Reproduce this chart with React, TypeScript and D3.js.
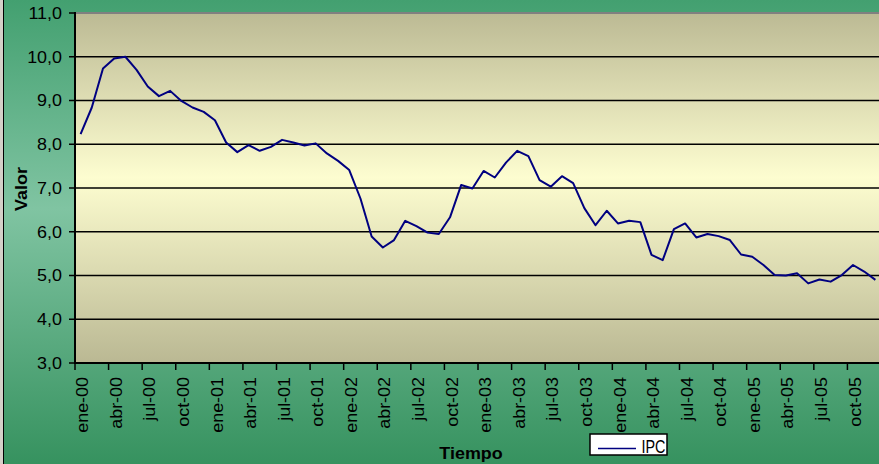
import React from "react";
import * as d3 from "d3";

const W = 879;
const H = 464;

// IPC monthly values, ene-00 .. dic-05
const ipcValues: number[] = [
  8.23, 8.84, 9.73, 9.96, 10.0, 9.7, 9.32, 9.1, 9.22, 8.99, 8.84, 8.74,
  8.55, 8.04, 7.82, 7.98, 7.85, 7.94, 8.1, 8.04, 7.97, 8.02, 7.79, 7.62,
  7.41, 6.76, 5.89, 5.64, 5.81, 6.25, 6.13, 5.98, 5.95, 6.33, 7.07, 6.99,
  7.39, 7.24, 7.58, 7.85, 7.73, 7.18, 7.03, 7.27, 7.11, 6.54, 6.15, 6.48,
  6.19, 6.25, 6.22, 5.47, 5.35, 6.06, 6.19, 5.87, 5.95, 5.9, 5.81, 5.48,
  5.43, 5.24, 5.01, 5.0, 5.05, 4.82, 4.91, 4.86, 5.01, 5.24, 5.09, 4.9,
];

// Category tick labels (one every three months)
const tickLabels: string[] = [
  "ene-00", "abr-00", "jul-00", "oct-00",
  "ene-01", "abr-01", "jul-01", "oct-01",
  "ene-02", "abr-02", "jul-02", "oct-02",
  "ene-03", "abr-03", "jul-03", "oct-03",
  "ene-04", "abr-04", "jul-04", "oct-04",
  "ene-05", "abr-05", "jul-05", "oct-05",
];
const tickStep = 3;

const yTicks: number[] = [3, 4, 5, 6, 7, 8, 9, 10, 11];

const seriesName = "IPC";
const xTitle = "Tiempo";
const yTitle = "Valor";

export default function App() {
  const left = 75;
  const right = 881;
  const top = 13;
  const bottom = 363;

  const cats = ipcValues.map((_, i) => i);
  const x = d3.scaleBand<number>().domain(cats).range([left, right]).padding(0);
  const bw = x.bandwidth();
  const cx = (i: number) => (x(i) as number) + bw / 2;
  const y = d3.scaleLinear().domain([3, 11]).range([bottom, top]);

  const line = d3
    .line<number>()
    .x((_, i) => cx(i))
    .y((d) => y(d));

  const fmt = (v: number) => v.toFixed(1).replace(".", ",");
  const font = "'Liberation Sans', Arial, sans-serif";

  return (
    <svg
      width={W}
      height={H}
      style={{ position: "absolute", left: 0, top: 0 }}
      fontFamily={font}
    >
      <defs>
        <linearGradient id="outerG" x1="0" y1="0" x2="0" y2="1">
          <stop offset="0" stopColor="#43a070" />
          <stop offset="0.45" stopColor="#80c4a2" />
          <stop offset="1" stopColor="#36925f" />
        </linearGradient>
        <linearGradient id="plotG" x1="0" y1="0" x2="0" y2="1">
          <stop offset="0" stopColor="#bcba94" />
          <stop offset="0.47" stopColor="#fdfdd0" />
          <stop offset="1" stopColor="#bab893" />
        </linearGradient>
      </defs>
      <rect x={0} y={0} width={W} height={H} fill="#d4d0c8" />
      <rect x={3} y={0} width={W - 3} height={H} fill="url(#outerG)" />
      <line x1={3.5} y1={0} x2={3.5} y2={H} stroke="#000" strokeWidth={1} />

      {/* plot area */}
      <rect x={left} y={top} width={right - left} height={bottom - top} fill="url(#plotG)" />

      {/* gridlines */}
      {yTicks
        .filter((t) => t > 3 && t < 11)
        .map((t) => (
          <line key={t} x1={left} x2={right} y1={y(t)} y2={y(t)} stroke="#000" strokeWidth={1.5} />
        ))}
      <line x1={left} x2={right} y1={top} y2={top} stroke="#808080" strokeWidth={2} />

      {/* series */}
      <path d={line(ipcValues) || ""} fill="none" stroke="#000080" strokeWidth={2} strokeLinejoin="round" />

      {/* axes */}
      <line x1={left} x2={left} y1={top - 1} y2={bottom + 1} stroke="#000" strokeWidth={2} />
      <line x1={left - 1} x2={right} y1={bottom} y2={bottom} stroke="#000" strokeWidth={2} />

      {yTicks.map((t) => (
        <g key={t}>
          <line x1={left - 6} x2={left} y1={y(t)} y2={y(t)} stroke="#000" strokeWidth={1.5} />
          <text
            transform={`translate(${62},${y(t) + 5.8}) scale(1.12,1)`}
            textAnchor="end"
            fontSize={16}
            fill="#000"
          >
            {fmt(t)}
          </text>
        </g>
      ))}

      {tickLabels.map((lab, k) => {
        const i = k * tickStep;
        const tx = x(i) as number;
        return (
          <g key={lab}>
            <line x1={tx} x2={tx} y1={bottom} y2={bottom + 7} stroke="#000" strokeWidth={1.5} />
            <text
              transform={`translate(${cx(i) + 7.6},${377}) rotate(-90) scale(1.12,1)`}
              textAnchor="end"
              fontSize={16}
              fill="#000"
            >
              {lab}
            </text>
          </g>
        );
      })}

      {/* titles */}
      <text
        transform={`translate(${471},${459}) scale(1.12,1)`}
        textAnchor="middle"
        fontSize={16}
        fontWeight="bold"
        fill="#000"
      >
        {xTitle}
      </text>
      <text
        transform={`translate(${26.5},${189}) rotate(-90) scale(1.12,1)`}
        textAnchor="middle"
        fontSize={16}
        fontWeight="bold"
        fill="#000"
      >
        {yTitle}
      </text>

      {/* legend */}
      <rect x={590} y={434} width={77} height={21} fill="#fff" stroke="#000" strokeWidth={1.5} />
      <line x1={598} x2={636} y1={448.5} y2={448.5} stroke="#000080" strokeWidth={1.7} />
      <text
        transform={`translate(${641.5},${453.3}) scale(0.82,1)`}
        fontSize={17.5}
        fill="#000"
      >
        {seriesName}
      </text>
    </svg>
  );
}
